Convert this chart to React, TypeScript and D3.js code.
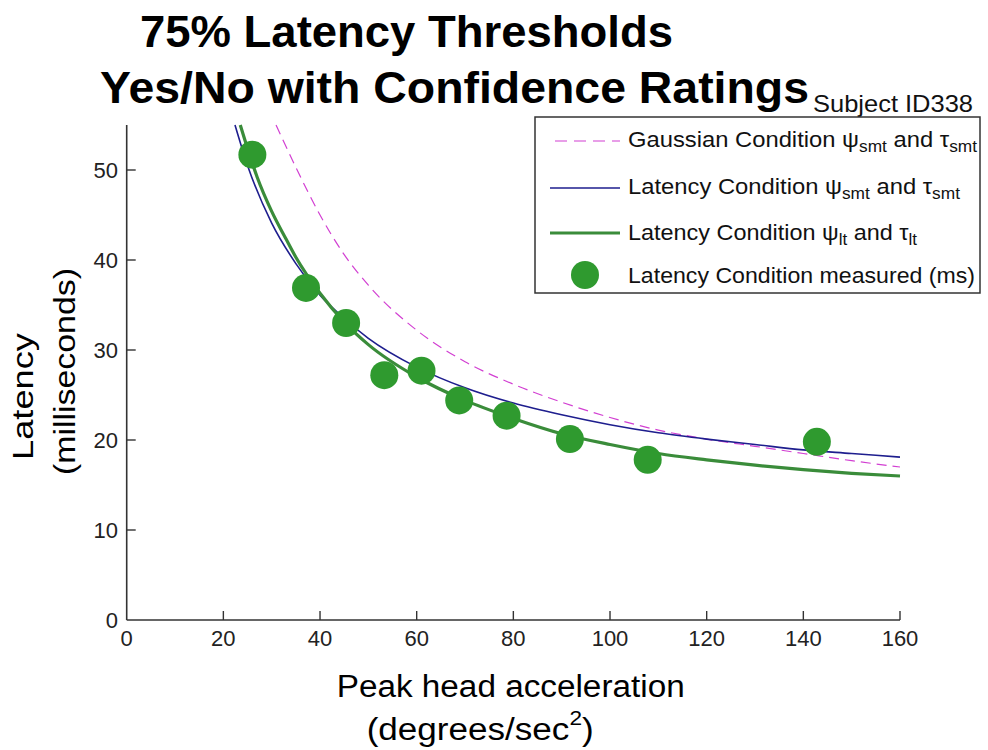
import React from "react";
import * as d3 from "d3";

// ---- data ----
const measuredX = [26.0, 37.1, 45.4, 53.3, 61.0, 68.8, 78.6, 91.7, 107.8, 142.8];
const measuredY = [51.7, 36.9, 33.0, 27.2, 27.7, 24.4, 22.7, 20.1, 17.8, 19.8];

const blueX = [22.4, 25, 30, 35, 40, 45, 50, 60, 70, 80, 90, 100, 110, 120, 130, 140, 150, 160];
const blueY = [55.0, 50.5, 44.1, 39.6, 36.1, 33.5, 31.3, 28.1, 25.8, 24.1, 22.8, 21.7, 20.8, 20.1, 19.5, 18.9, 18.5, 18.1];

const greenX = [23.5, 25, 27, 30, 33, 35, 40, 45, 50, 60, 70, 80, 90, 100, 110, 120, 130, 140, 150, 160];
const greenY = [55.0, 52.4, 49.2, 45.4, 42.3, 40.3, 36.3, 33.1, 30.6, 27.0, 24.4, 22.4, 20.7, 19.5, 18.5, 17.8, 17.2, 16.7, 16.3, 16.0];

const gaussX = [30.9, 35, 40, 45, 50, 60, 70, 80, 90, 100, 110, 120, 130, 140, 150, 160];
const gaussY = [55.0, 50.3, 45.0, 40.6, 37.2, 32.2, 28.7, 26.2, 24.2, 22.5, 21.1, 20.1, 19.3, 18.5, 17.7, 17.0];

const xTicks = [0, 20, 40, 60, 80, 100, 120, 140, 160];
const yTicks = [0, 10, 20, 30, 40, 50];

const FONT = "'Liberation Sans', Arial, sans-serif";
const MAGENTA = "#d23fd2";
const BLUE = "#1e1e8e";
const GREEN_LINE = "#3a8c3a";
const GREEN_DOT = "#2f9a2f";

export default function App() {
  const W = 988, H = 750;
  const x = d3.scaleLinear().domain([0, 160]).range([126.7, 900]);
  const y = d3.scaleLinear().domain([0, 55]).range([620, 125]);

  const line = d3
    .line<[number, number]>()
    .x((d) => x(d[0]))
    .y((d) => y(d[1]))
    .curve(d3.curveMonotoneX);

  const zip = (a: number[], b: number[]) => a.map((v, i) => [v, b[i]] as [number, number]);

  const axisColor = "#333";

  return (
    <svg
      width={W}
      height={H}
      style={{ position: "absolute", left: 0, top: 0, background: "#fff", display: "block" }}
      fontFamily={FONT}
    >
      <rect x={0} y={0} width={W} height={H} fill="#fff" />
      {/* Title */}
      <text x={140} y={46.7} fontSize={44} fontWeight="bold" fill="#000" textLength={533} lengthAdjust="spacingAndGlyphs">
        75% Latency Thresholds
      </text>
      <text x={100} y={103.3} fontSize={44} fontWeight="bold" fill="#000" textLength={709} lengthAdjust="spacingAndGlyphs">
        Yes/No with Confidence Ratings
      </text>
      <text x={813} y={111.7} fontSize={24} fill="#111" textLength={160} lengthAdjust="spacingAndGlyphs">
        Subject ID338
      </text>

      {/* Axes */}
      <line x1={x(0)} x2={x(160)} y1={y(0)} y2={y(0)} stroke={axisColor} strokeWidth={1.6} />
      <line x1={x(0)} x2={x(0)} y1={y(0)} y2={y(55)} stroke={axisColor} strokeWidth={1.6} />
      {xTicks.map((t) => (
        <g key={"xt" + t}>
          {t !== 0 && <line x1={x(t)} x2={x(t)} y1={y(0)} y2={y(0) - 9} stroke={axisColor} strokeWidth={1.4} />}
          <text x={x(t)} y={638} fontSize={22} fill="#222" textAnchor="middle" dominantBaseline="central">
            {t}
          </text>
        </g>
      ))}
      {yTicks.map((t) => (
        <g key={"yt" + t}>
          {t !== 0 && <line x1={x(0)} x2={x(0) + 9} y1={y(t)} y2={y(t)} stroke={axisColor} strokeWidth={1.4} />}
          <text x={118} y={y(t)} fontSize={22} fill="#222" textAnchor="end" dominantBaseline="central">
            {t}
          </text>
        </g>
      ))}

      {/* Axis labels */}
      <text transform="translate(33,460) rotate(-90)" fontSize={29} fill="#000" textLength={127} lengthAdjust="spacingAndGlyphs">
        Latency
      </text>
      <text transform="translate(75,475) rotate(-90)" fontSize={29} fill="#000" textLength={207} lengthAdjust="spacingAndGlyphs">
        (milliseconds)
      </text>
      <text x={336.7} y={696.7} fontSize={31} fill="#000" textLength={348} lengthAdjust="spacingAndGlyphs">
        Peak head acceleration
      </text>
      <text x={366.7} y={740} fontSize={31} fill="#000" textLength={227} lengthAdjust="spacingAndGlyphs">
        (degrees/sec<tspan fontSize={20} dy={-15}>2</tspan><tspan dy={15}>)</tspan>
      </text>

      {/* Curves */}
      <path d={line(zip(gaussX, gaussY)) || ""} fill="none" stroke={MAGENTA} strokeWidth={1.2} strokeDasharray="10,6" />
      <path d={line(zip(blueX, blueY)) || ""} fill="none" stroke={BLUE} strokeWidth={1.6} />
      <path d={line(zip(greenX, greenY)) || ""} fill="none" stroke={GREEN_LINE} strokeWidth={3.2} />

      {/* Points */}
      {measuredX.map((mx, i) => (
        <circle key={"p" + i} cx={x(mx)} cy={y(measuredY[i])} r={14} fill={GREEN_DOT} />
      ))}

      {/* Legend */}
      <rect x={535} y={117} width={445} height={176} fill="#fff" stroke="#333" strokeWidth={1.5} />
      <line x1={555} x2={620} y1={141} y2={141} stroke={MAGENTA} strokeWidth={1.2} strokeDasharray="12,7" />
      <line x1={550} x2={620} y1={188} y2={188} stroke={BLUE} strokeWidth={1.6} />
      <line x1={550} x2={620} y1={233} y2={233} stroke={GREEN_LINE} strokeWidth={3.2} />
      <circle cx={585} cy={275} r={14} fill={GREEN_DOT} />

      <text x={628} y={147} fontSize={22} fill="#111" textLength={349} lengthAdjust="spacingAndGlyphs">
        Gaussian Condition ψ<tspan fontSize={16} dy={5}>smt</tspan>
        <tspan dy={-5}> and τ</tspan>
        <tspan fontSize={16} dy={5}>smt</tspan>
      </text>
      <text x={628} y={194} fontSize={22} fill="#111" textLength={332} lengthAdjust="spacingAndGlyphs">
        Latency Condition ψ<tspan fontSize={16} dy={5}>smt</tspan>
        <tspan dy={-5}> and τ</tspan>
        <tspan fontSize={16} dy={5}>smt</tspan>
      </text>
      <text x={628} y={240} fontSize={22} fill="#111" textLength={289} lengthAdjust="spacingAndGlyphs">
        Latency Condition ψ<tspan fontSize={16} dy={5}>lt</tspan>
        <tspan dy={-5}> and τ</tspan>
        <tspan fontSize={16} dy={5}>lt</tspan>
      </text>
      <text x={628} y={283} fontSize={22} fill="#111" textLength={347} lengthAdjust="spacingAndGlyphs">
        Latency Condition measured (ms)
      </text>
    </svg>
  );
}
